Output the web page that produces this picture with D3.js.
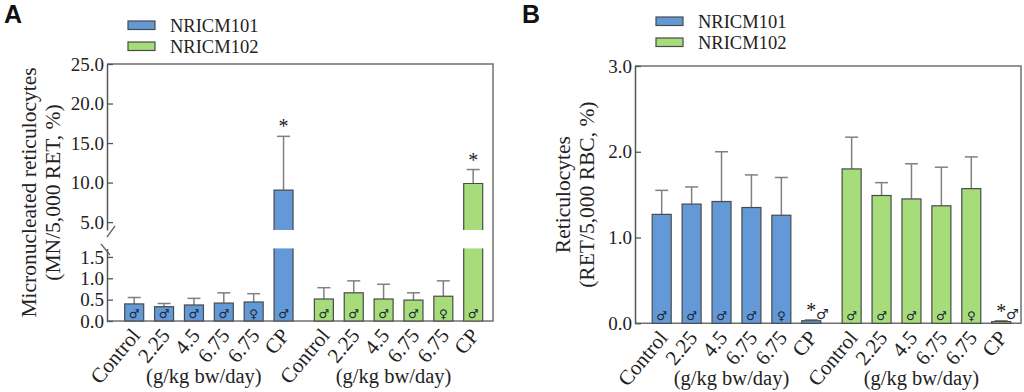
<!DOCTYPE html>
<html>
<head>
<meta charset="utf-8">
<script src="https://cdn.jsdelivr.net/npm/d3@7"></script>
<style>
  body { margin: 0; background: #fff; }
  svg { display: block; }
</style>
</head>
<body>
<div id="chart"></div>
<script>
// groups and labels
var categories = ["Control", "2.25", "4.5", "6.75", "6.75", "CP"];
var sexes = ["\u2642", "\u2642", "\u2642", "\u2642", "\u2640", "\u2642"];
var seriesNames = ["NRICM101", "NRICM102"];
var significant = [false, false, false, false, false, true];

// panel A: micronucleated reticulocytes (mean, SD)
var mn101 = [0.40, 0.335, 0.375, 0.42, 0.445, 9.04];
var mn101sd = [0.15, 0.075, 0.155, 0.24, 0.195, 6.81];
var mn102 = [0.515, 0.66, 0.515, 0.49, 0.58, 9.88];
var mn102sd = [0.265, 0.28, 0.345, 0.17, 0.36, 1.77];

// panel B: reticulocytes (mean, SD)
var ret101 = [1.27, 1.39, 1.42, 1.35, 1.26, 0.03];
var ret101sd = [0.28, 0.20, 0.58, 0.38, 0.44, 0.01];
var ret102 = [1.80, 1.49, 1.45, 1.37, 1.57, 0.02];
var ret102sd = [0.37, 0.15, 0.41, 0.45, 0.37, 0.01];

var ticksAupper = [5, 10, 15, 20, 25];
var ticksAlower = [0, 0.5, 1.0, 1.5];
var ticksB = [0, 1, 2, 3];

var colors = ["#6399d6", "#a7dc7a"];
var serif = "'Liberation Serif', 'Times New Roman', serif";

var svg = d3.select("#chart").append("svg")
    .attr("width", 1024)
    .attr("height", 392);

function slot(s, i) { return i + s * 6 + (s === 1 ? 0.35 : 0); }

function drawPanel(p) {
    var g = svg.append("g");
    var x = d3.scaleLinear().domain([0, 11.35]).range(p.xRange);
    var bw = 19;

    // y scale(s)
    var yLow, yUp = null;
    if (p.broken) {
        yLow = d3.scaleLinear().domain([0, 1.7]).range([p.bottom, 248.4]);
        yUp = d3.scaleLinear().domain([4, 25]).range([230, p.top]);
    } else {
        yLow = d3.scaleLinear().domain([0, 3]).range([p.bottom, p.top]);
    }
    var yv = function(v) { return (yUp && v > 1.7) ? yUp(v) : yLow(v); };

    // frame: top, right, bottom
    g.append("path")
        .attr("d", "M" + p.left + "," + p.top + "H" + p.right + "V" + p.bottom + "H" + p.left)
        .attr("fill", "none").attr("stroke", "#707070").attr("stroke-width", 1.5);

    // y axis
    function styleAxis(sel) {
        sel.select(".domain").attr("stroke", "#555").attr("stroke-width", 1.5);
        sel.selectAll(".tick line").attr("stroke", "#555").attr("stroke-width", 1.3);
        sel.selectAll(".tick text").attr("font-family", serif).attr("font-size", 19).attr("fill", "#222");
    }
    var fmt = d3.format(".1f");
    g.append("g").attr("transform", "translate(" + p.left + ",0)")
        .call(d3.axisLeft(yLow).tickValues(p.broken ? ticksAlower : ticksB)
            .tickSizeInner(-6).tickSizeOuter(0).tickPadding(3).tickFormat(fmt))
        .call(styleAxis);
    if (yUp) {
        g.append("g").attr("transform", "translate(" + p.left + ",0)")
            .call(d3.axisLeft(yUp).tickValues(ticksAupper)
                .tickSizeInner(-6).tickSizeOuter(0).tickPadding(3).tickFormat(fmt))
            .call(styleAxis);
        // break marks
        g.append("line").attr("x1", p.left).attr("y1", 237).attr("x2", p.left + 8).attr("y2", 226)
            .attr("stroke", "#666").attr("stroke-width", 1.3);
        g.append("line").attr("x1", p.left - 6).attr("y1", 244).attr("x2", p.left + 3).attr("y2", 255)
            .attr("stroke", "#666").attr("stroke-width", 1.3);
    }

    // bars
    [p.means[0], p.means[1]].forEach(function(vals, s) {
        vals.forEach(function(v, i) {
            var cx = x(slot(s, i));
            var l = cx - bw / 2, r = cx + bw / 2;
            var top = yv(v);
            var et = yv(v + p.sds[s][i]);
            g.append("line").attr("x1", cx).attr("x2", cx).attr("y1", top).attr("y2", et)
                .attr("stroke", "#808080").attr("stroke-width", 1.5);
            g.append("line").attr("x1", cx - 6.5).attr("x2", cx + 6.5).attr("y1", et).attr("y2", et)
                .attr("stroke", "#808080").attr("stroke-width", 1.5);
            if (yUp && v > 1.7) {
                var lt = yLow(1.7), ub = yUp(4);
                g.append("rect").attr("x", l).attr("y", lt).attr("width", bw)
                    .attr("height", p.bottom - lt).attr("fill", colors[s]);
                g.append("rect").attr("x", l).attr("y", top).attr("width", bw)
                    .attr("height", ub - top).attr("fill", colors[s]);
                g.append("path")
                    .attr("d", "M" + l + "," + lt + "V" + p.bottom + "H" + r + "V" + lt +
                        "M" + l + "," + ub + "V" + top + "H" + r + "V" + ub)
                    .attr("fill", "none").attr("stroke", "#4a4a4a").attr("stroke-width", 1.2);
            } else {
                g.append("rect").attr("x", l).attr("y", top)
                    .attr("width", bw).attr("height", Math.max(p.bottom - top, 1.2))
                    .attr("fill", colors[s]).attr("stroke", "#4a4a4a").attr("stroke-width", 1.2);
            }
            if (significant[i]) {
                g.append("text").attr("x", cx).attr("y", et - 3)
                    .attr("text-anchor", "middle").attr("font-family", serif)
                    .attr("font-size", 20).attr("fill", "#222").text("*");
            }
            var small = (p.bottom - top) < 6;
            g.append("text")
                .attr("x", small ? cx + 11 : cx)
                .attr("y", small ? p.bottom - 4 : p.bottom - 3)
                .attr("text-anchor", "middle")
                .attr("font-family", "'DejaVu Sans', sans-serif")
                .attr("font-size", small ? 14 : 12)
                .attr("fill", "#1b2536")
                .text(sexes[i]);
        });
    });

    // x labels
    var slots = d3.range(12).map(function(k) { return slot(Math.floor(k / 6), k % 6); });
    slots.forEach(function(sv, k) {
        var cx = x(sv);
        g.append("text")
            .attr("transform", "translate(" + (cx + 7) + "," + (p.bottom + 15) + ") rotate(-50)")
            .attr("text-anchor", "end").attr("font-family", serif)
            .attr("font-size", 21).attr("fill", "#222")
            .text(categories[k % 6]);
    });
    [0, 1].forEach(function(s) {
        var c = (x(slot(s, 1)) + x(slot(s, 4))) / 2 - 5;
        g.append("text").attr("x", c).attr("y", p.bottom + 62)
            .attr("text-anchor", "middle").attr("font-family", serif)
            .attr("font-size", 20.5).attr("fill", "#222").text("(g/kg bw/day)");
    });

    // y title
    var my = (p.top + p.bottom) / 2;
    p.title.forEach(function(t, k) {
        g.append("text")
            .attr("transform", "translate(" + p.titleX[k] + "," + my + ") rotate(-90)")
            .attr("text-anchor", "middle").attr("dominant-baseline", "central")
            .attr("font-family", serif).attr("font-size", 21.5).attr("fill", "#222")
            .text(t);
    });

    // legend
    seriesNames.forEach(function(n, s) {
        g.append("rect").attr("x", p.legX).attr("y", p.legY + s * 21)
            .attr("width", 27).attr("height", 8.5)
            .attr("fill", colors[s]).attr("stroke", "#4a4a4a").attr("stroke-width", 1.2);
        g.append("text").attr("x", p.legX + 42).attr("y", p.legY + s * 21 + 10.5)
            .attr("font-family", serif).attr("font-size", 18.5).attr("fill", "#222").text(n);
    });

    // panel letter
    g.append("text").attr("x", p.letterX).attr("y", 23)
        .attr("font-family", "'Liberation Sans', Arial, sans-serif")
        .attr("font-weight", "bold").attr("font-size", 25).attr("fill", "#111")
        .text(p.letter);
}

drawPanel({
    letter: "A", letterX: 4,
    left: 107, right: 493, top: 64, bottom: 321,
    xRange: [134.2, 473.2],
    broken: true,
    means: [mn101, mn102], sds: [mn101sd, mn102sd],
    title: ["Micronucleated reticulocytes", "(MN/5,000 RET, %)"],
    titleX: [29, 53],
    legX: 128, legY: 21
});

drawPanel({
    letter: "B", letterX: 522,
    left: 635, right: 1021, top: 66, bottom: 323.3,
    xRange: [661.7, 1001.2],
    broken: false,
    means: [ret101, ret102], sds: [ret101sd, ret102sd],
    title: ["Reticulocytes", "(RET/5,000 RBC, %)"],
    titleX: [563, 587],
    legX: 656, legY: 17
});
</script>
</body>
</html>
